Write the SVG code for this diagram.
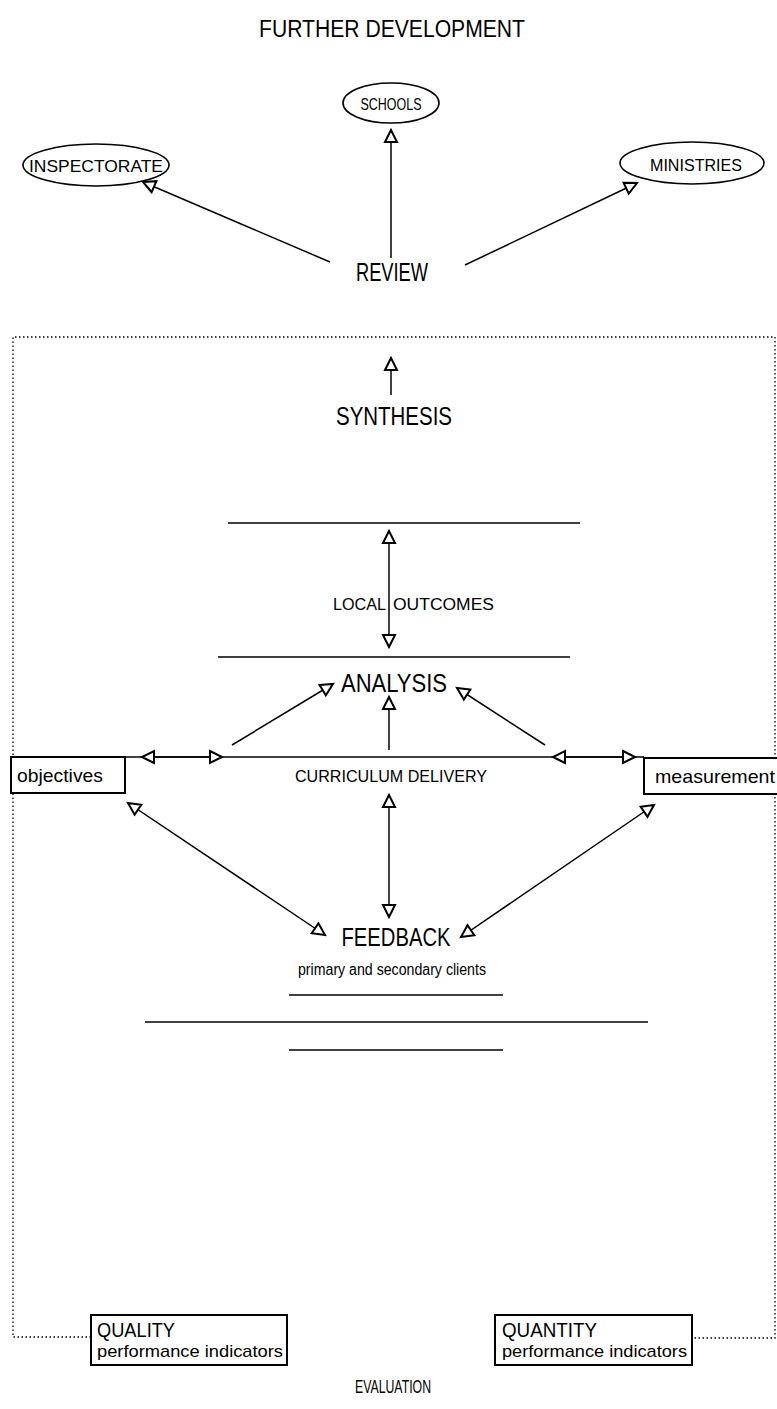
<svg xmlns="http://www.w3.org/2000/svg" width="777" height="1409" viewBox="0 0 777 1409">
<style>
text{font-family:"Liberation Sans","DejaVu Sans",sans-serif;fill:#000}
.c{text-anchor:middle}
.ln{stroke:#000;stroke-width:1.5;fill:none}
.ar{stroke:#000;stroke-width:1.5;fill:none;marker-end:url(#ah)}
.dbl{stroke:#000;stroke-width:1.5;fill:none;marker-start:url(#ah);marker-end:url(#ah)}
.box{fill:#fff;stroke:#000;stroke-width:2}
.ell{fill:#fff;stroke:#000;stroke-width:1.6}
.dot{stroke:#000;stroke-width:1.3;fill:none;stroke-dasharray:1.5 2.5}
</style>
<defs>
<marker id="ah" markerUnits="userSpaceOnUse" markerWidth="18" markerHeight="18" viewBox="-3 -3 18 18" refX="12" refY="6" orient="auto-start-reverse">
<path d="M0,0 L12,6 L0,12 Z" fill="#fff" stroke="#000" stroke-width="2" stroke-linejoin="miter"/>
</marker>
</defs>

<g id="title"><text class="c" x="392" y="37" font-size="23" textLength="266" lengthAdjust="spacingAndGlyphs">FURTHER DEVELOPMENT</text></g>

<g id="frame">
<path class="dot" d="M91,1337 H13 V337 H775 V1338 H692"/>
</g>

<g id="connectors">
<line class="ar" x1="391" y1="258" x2="391" y2="130"/>
<line class="ar" x1="330" y1="262" x2="143" y2="182"/>
<line class="ar" x1="465" y1="265" x2="637" y2="183"/>
<line class="ar" x1="391" y1="395" x2="391" y2="358"/>
<line class="ln" x1="228" y1="523" x2="580" y2="523"/>
<line class="dbl" x1="389" y1="531" x2="389" y2="647"/>
<line class="ln" x1="218" y1="657" x2="570" y2="657"/>
<line class="ar" x1="232" y1="745" x2="333" y2="684"/>
<line class="ar" x1="389" y1="750" x2="389" y2="697"/>
<line class="ar" x1="545" y1="745" x2="457" y2="688"/>
<line class="ln" x1="124" y1="757" x2="644" y2="757"/>
<line class="dbl" x1="142" y1="757" x2="222" y2="757"/>
<line class="dbl" x1="553" y1="757" x2="635" y2="757"/>
<line class="dbl" x1="389" y1="795" x2="389" y2="917"/>
<line class="dbl" x1="128" y1="803" x2="325" y2="935"/>
<line class="dbl" x1="654" y1="805" x2="461" y2="937"/>
<line class="ln" x1="289" y1="995" x2="503" y2="995"/>
<line class="ln" x1="145" y1="1022" x2="648" y2="1022"/>
<line class="ln" x1="289" y1="1050" x2="503" y2="1050"/>
</g>

<g id="schools"><ellipse class="ell" cx="391" cy="103" rx="48" ry="20"/><text class="c" x="391" y="110" font-size="16" textLength="61" lengthAdjust="spacingAndGlyphs">SCHOOLS</text></g>
<g id="inspectorate"><ellipse class="ell" cx="96" cy="165" rx="73" ry="21"/><text class="c" x="96" y="172" font-size="17" textLength="134" lengthAdjust="spacingAndGlyphs">INSPECTORATE</text></g>
<g id="ministries"><ellipse class="ell" cx="692" cy="163" rx="72" ry="21"/><text class="c" x="696" y="171" font-size="17" textLength="92" lengthAdjust="spacingAndGlyphs">MINISTRIES</text></g>
<g id="review"><text class="c" x="392" y="281" font-size="25" textLength="72" lengthAdjust="spacingAndGlyphs">REVIEW</text></g>
<g id="synthesis"><text class="c" x="394" y="425" font-size="25" textLength="116" lengthAdjust="spacingAndGlyphs">SYNTHESIS</text></g>
<g id="local-outcomes"><text x="386" y="610" font-size="16" text-anchor="end" textLength="53" lengthAdjust="spacingAndGlyphs">LOCAL</text><text x="393" y="610" font-size="16" textLength="101" lengthAdjust="spacingAndGlyphs">OUTCOMES</text></g>
<g id="analysis"><text class="c" x="394" y="692" font-size="26" textLength="106" lengthAdjust="spacingAndGlyphs">ANALYSIS</text></g>
<g id="curriculum"><text class="c" x="391" y="782" font-size="16" textLength="192" lengthAdjust="spacingAndGlyphs">CURRICULUM DELIVERY</text></g>
<g id="objectives"><rect class="box" x="11" y="757" width="114" height="36"/><text x="17" y="782" font-size="19" textLength="86" lengthAdjust="spacingAndGlyphs">objectives</text></g>
<g id="measurement"><rect class="box" x="644" y="758" width="140" height="36"/><text x="655" y="783" font-size="19" textLength="120" lengthAdjust="spacingAndGlyphs">measurement</text></g>
<g id="feedback"><text class="c" x="396" y="946" font-size="26" textLength="109" lengthAdjust="spacingAndGlyphs">FEEDBACK</text><text class="c" x="392" y="975" font-size="16" textLength="188" lengthAdjust="spacingAndGlyphs">primary and secondary clients</text></g>
<g id="quality"><rect class="box" x="91" y="1315" width="196" height="50"/><text x="97" y="1337" font-size="20" textLength="78" lengthAdjust="spacingAndGlyphs">QUALITY</text><text x="97" y="1357" font-size="17" textLength="186" lengthAdjust="spacingAndGlyphs">performance indicators</text></g>
<g id="quantity"><rect class="box" x="495" y="1315" width="197" height="50"/><text x="502" y="1337" font-size="20" textLength="95" lengthAdjust="spacingAndGlyphs">QUANTITY</text><text x="502" y="1357" font-size="17" textLength="185" lengthAdjust="spacingAndGlyphs">performance indicators</text></g>
<g id="evaluation"><text class="c" x="393" y="1393" font-size="19" textLength="76" lengthAdjust="spacingAndGlyphs">EVALUATION</text></g>
</svg>
